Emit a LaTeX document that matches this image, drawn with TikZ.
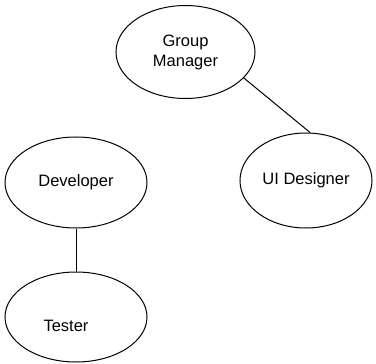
\documentclass[tikz,border=0pt]{standalone}
\usepackage{fontspec}
\setmainfont{Liberation Sans}
\usetikzlibrary{shapes.geometric}
\begin{document}
\begin{tikzpicture}[x=1pt,y=-1pt,
  role/.style={ellipse,draw,line width=1pt,inner sep=0pt,align=center,
    font=\fontsize{16.5}{20}\selectfont},
  link/.style={line width=1pt},
  lbl/.style={font=\fontsize{16.5}{20}\selectfont,inner sep=0pt}]
\useasboundingbox (0,0) rectangle (376,364);
\node[role,minimum width=139pt,minimum height=93pt] (gm) at (185.5,52) {Group\\Manager};
\node[role,minimum width=132pt,minimum height=95pt] (ui) at (306,180.5) {UI Designer};
\node[role,minimum width=142pt,minimum height=91pt] (dev) at (76,182.5) {Developer};
\node[role,minimum width=142pt,minimum height=90pt] (tester) at (76,317) {};
\node[lbl] (testerlbl) at (66,326) {Tester};
\draw[link] (gm.-24) -- (ui.85);
\draw[link] (dev.south) -- (tester.north);
\end{tikzpicture}
\end{document}
